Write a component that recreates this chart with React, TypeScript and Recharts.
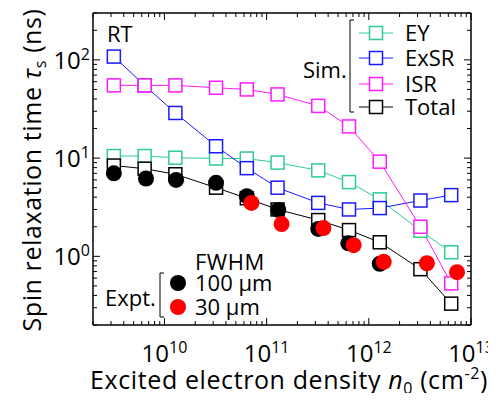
import React from "react";
import { ComposedChart, Line, Scatter, XAxis, YAxis } from "recharts";

const xSim = [3.2e9, 6.4e9, 1.28e10, 3.2e10, 6.4e10, 1.28e11, 3.2e11, 6.4e11, 1.28e12, 3.2e12, 6.4e12];
const eyVals = [10.5, 10.5, 10.1, 9.9, 9.9, 9.0, 7.5, 5.7, 3.8, 1.82, 1.1];
const exsrVals = [108, 55, 28.8, 13.2, 7.9, 5.0, 3.5, 3.0, 3.1, 3.7, 4.2];
const isrVals = [55, 55, 55, 52, 50, 44.5, 34, 21, 9.2, 2.0, 0.53];
const totalVals = [8.4, 7.8, 6.85, 5.0, 3.9, 3.0, 2.34, 1.85, 1.39, 0.74, 0.33];

const x100 = [3.2e9, 6.6e9, 1.3e10, 3.2e10, 6.4e10, 1.3e11, 3.2e11, 6.3e11, 1.28e12];
const y100 = [7.0, 6.2, 6.0, 5.6, 4.1, 2.97, 1.9, 1.36, 0.84];
const x30 = [7.1e10, 1.4e11, 3.6e11, 7.1e11, 1.4e12, 3.7e12, 7.3e12];
const y30 = [3.5, 2.13, 1.94, 1.3, 0.88, 0.85, 0.69];

const xTicks = [
  2e9, 3e9, 4e9, 5e9, 6e9, 7e9, 8e9, 9e9,
  1e10, 2e10, 3e10, 4e10, 5e10, 6e10, 7e10, 8e10, 9e10,
  1e11, 2e11, 3e11, 4e11, 5e11, 6e11, 7e11, 8e11, 9e11,
  1e12, 2e12, 3e12, 4e12, 5e12, 6e12, 7e12, 8e12, 9e12, 1e13,
];
const yTicks = [
  0.2, 0.3, 0.4, 0.5, 0.6, 0.7, 0.8, 0.9,
  1, 2, 3, 4, 5, 6, 7, 8, 9,
  10, 20, 30, 40, 50, 60, 70, 80, 90,
  100, 200, 300,
];

const COLORS = { ey: "#2fcc94", exsr: "#1a1aff", isr: "#ff1aff", total: "#000000" };
const FONT = "'Open Sans', sans-serif";
const FS_AX = 24;
const FS_TITLE = 25;
const FS_SUP = 16;
const FS_LEG = 22;

const mk = (xs: number[], ys: number[]) => xs.map((x, i) => ({ x, y: ys[i] }));
const eyData = mk(xSim, eyVals);
const exsrData = mk(xSim, exsrVals);
const isrData = mk(xSim, isrVals);
const totalData = mk(xSim, totalVals);
const d100 = mk(x100, y100);
const d30 = mk(x30, y30);

const isMajor = (v: number) => {
  const l = Math.log10(v);
  return Math.abs(l - Math.round(l)) < 1e-6;
};

const Pow = ({ x, y, e, anchor }: any) => (
  <text x={x} y={y} textAnchor={anchor} fontFamily={FONT} fontSize={FS_AX} fill="#000">
    <tspan>10</tspan>
    <tspan dy={-9} fontSize={FS_SUP}>{e}</tspan>
  </text>
);

const XBottomTick = (p: any) => {
  const { x, y, payload } = p;
  const v = payload.value;
  const m = isMajor(v);
  return (
    <g>
      <line x1={x} x2={x} y1={y} y2={y - (m ? 7 : 4)} stroke="#000" strokeWidth={1} />
      {m && <Pow x={x} y={y + 37} e={Math.round(Math.log10(v))} anchor="middle" />}
    </g>
  );
};
const XTopTick = (p: any) => {
  const { x, y, payload } = p;
  const m = isMajor(payload.value);
  return <line x1={x} x2={x} y1={y} y2={y + (m ? 7 : 4)} stroke="#000" strokeWidth={1} />;
};
const YLeftTick = (p: any) => {
  const { x, y, payload } = p;
  const v = payload.value;
  const m = isMajor(v);
  return (
    <g>
      <line x1={x} x2={x + (m ? 7 : 4)} y1={y} y2={y} stroke="#000" strokeWidth={1} />
      {m && <Pow x={x - 3} y={y + 9} e={Math.round(Math.log10(v))} anchor="end" />}
    </g>
  );
};
const YRightTick = (p: any) => {
  const { x, y, payload } = p;
  const m = isMajor(payload.value);
  return <line x1={x} x2={x - (m ? 7 : 4)} y1={y} y2={y} stroke="#000" strokeWidth={1} />;
};

const squareDot = (color: string) => (props: any) => {
  const { cx, cy, index } = props;
  return (
    <rect key={index} x={cx - 6.5} y={cy - 6.5} width={13} height={13} fill="#fff" stroke={color} strokeWidth={1.5} />
  );
};
const circleShape = (color: string) => (props: any) => {
  const { cx, cy } = props;
  return <circle cx={cx} cy={cy} r={8} fill={color} />;
};

const W = 496;
const H = 401;

export default function App() {
  const legendItems = [
    { label: "EY", color: COLORS.ey, y: 33 },
    { label: "ExSR", color: COLORS.exsr, y: 58 },
    { label: "ISR", color: COLORS.isr, y: 84 },
    { label: "Total", color: COLORS.total, y: 107 },
  ];
  return (
    <div style={{ position: "relative", width: W, height: H, margin: "-8px" }}>
      <style>{".recharts-wrapper, .recharts-surface { overflow: visible !important; max-width: none !important; } html, body { overflow: hidden; }"}</style>
      <ComposedChart width={W} height={H} margin={{ top: 12, right: 24, left: 0, bottom: 0 }}>
        <XAxis
          xAxisId="b"
          dataKey="x"
          type="number"
          scale="log"
          domain={[2e9, 1e13]}
          allowDataOverflow
          ticks={xTicks}
          interval={0}
          tick={<XBottomTick />}
          tickLine={false}
          tickSize={0}
          tickMargin={0}
          height={76}
          axisLine={{ stroke: "#000", strokeWidth: 1.5 }}
        />
        <XAxis
          xAxisId="t"
          orientation="top"
          dataKey="x"
          type="number"
          scale="log"
          domain={[2e9, 1e13]}
          allowDataOverflow
          ticks={xTicks}
          interval={0}
          tick={<XTopTick />}
          tickLine={false}
          tickSize={0}
          tickMargin={0}
          height={1}
          axisLine={{ stroke: "#000", strokeWidth: 1.5 }}
        />
        <YAxis
          yAxisId="l"
          dataKey="y"
          type="number"
          scale="log"
          domain={[0.2, 300]}
          allowDataOverflow
          ticks={yTicks}
          interval={0}
          tick={<YLeftTick />}
          tickLine={false}
          tickSize={0}
          tickMargin={0}
          width={93}
          axisLine={{ stroke: "#000", strokeWidth: 1.5 }}
        />
        <YAxis
          yAxisId="r"
          orientation="right"
          dataKey="y"
          type="number"
          scale="log"
          domain={[0.2, 300]}
          allowDataOverflow
          ticks={yTicks}
          interval={0}
          tick={<YRightTick />}
          tickLine={false}
          tickSize={0}
          tickMargin={0}
          width={1}
          axisLine={{ stroke: "#000", strokeWidth: 1.5 }}
        />
        <Line xAxisId="b" yAxisId="l" data={eyData} dataKey="y" stroke={COLORS.ey} strokeWidth={1} dot={squareDot(COLORS.ey)} isAnimationActive={false} />
        <Line xAxisId="b" yAxisId="l" data={exsrData} dataKey="y" stroke={COLORS.exsr} strokeWidth={1} dot={squareDot(COLORS.exsr)} isAnimationActive={false} />
        <Line xAxisId="b" yAxisId="l" data={isrData} dataKey="y" stroke={COLORS.isr} strokeWidth={1} dot={squareDot(COLORS.isr)} isAnimationActive={false} />
        <Line xAxisId="b" yAxisId="l" data={totalData} dataKey="y" stroke={COLORS.total} strokeWidth={1} dot={squareDot(COLORS.total)} isAnimationActive={false} />
        <Scatter xAxisId="b" yAxisId="l" data={d100} dataKey="y" shape={circleShape("#000")} isAnimationActive={false} />
        <Scatter xAxisId="b" yAxisId="l" data={d30} dataKey="y" shape={circleShape("#ff0000")} isAnimationActive={false} />
      </ComposedChart>
      <svg width={W} height={H} style={{ position: "absolute", left: 0, top: 0, pointerEvents: "none" }} fontFamily={FONT}>
        <text x={107} y={42} fontSize={FS_LEG} fill="#000">RT</text>
        {/* Sim legend */}
        <path d="M354 20 H350 V112 H354" fill="none" stroke="#000" strokeWidth={1} />
        <text x={303} y={78} fontSize={FS_LEG} fill="#000">Sim.</text>
        {legendItems.map((it) => (
          <g key={it.label}>
            <line x1={359} x2={393} y1={it.y} y2={it.y} stroke={it.color} strokeWidth={1} />
            <rect x={376 - 6.5} y={it.y - 6.5} width={13} height={13} fill="#fff" stroke={it.color} strokeWidth={1.5} />
            <text x={405} y={it.y + 8} fontSize={FS_LEG} fill="#000">{it.label}</text>
          </g>
        ))}
        {/* Expt legend */}
        <text x={195} y={270} fontSize={FS_LEG} fill="#000" letterSpacing={0.5}>FWHM</text>
        <path d="M164 273 H160 V317 H164" fill="none" stroke="#000" strokeWidth={1} />
        <text x={105} y={306} fontSize={FS_LEG} fill="#000">Expt.</text>
        <circle cx={178} cy={283} r={8} fill="#000" />
        <circle cx={178} cy={307} r={8} fill="#ff0000" />
        <text x={195} y={291} fontSize={FS_LEG} fill="#000">100 μm</text>
        <text x={195} y={315} fontSize={FS_LEG} fill="#000">30 μm</text>
        {/* Axis titles */}
        <text x={289} y={389} fontSize={FS_TITLE} textAnchor="middle" fill="#000" letterSpacing={0.6}>
          <tspan>Excited electron density </tspan>
          <tspan fontStyle="italic">n</tspan>
          <tspan fontSize={FS_SUP} dy={5}>0</tspan>
          <tspan dy={-5}> (cm</tspan>
          <tspan fontSize={FS_SUP} dy={-10}>-2</tspan>
          <tspan dy={10}>)</tspan>
        </text>
        <text transform="translate(41,170) rotate(-90)" fontSize={FS_TITLE} textAnchor="middle" fill="#000" letterSpacing={0.6}>
          <tspan>Spin relaxation time </tspan>
          <tspan fontStyle="italic">τ</tspan>
          <tspan fontSize={FS_SUP} dy={5}>s</tspan>
          <tspan dy={-5}> (ns)</tspan>
        </text>
      </svg>
    </div>
  );
}
